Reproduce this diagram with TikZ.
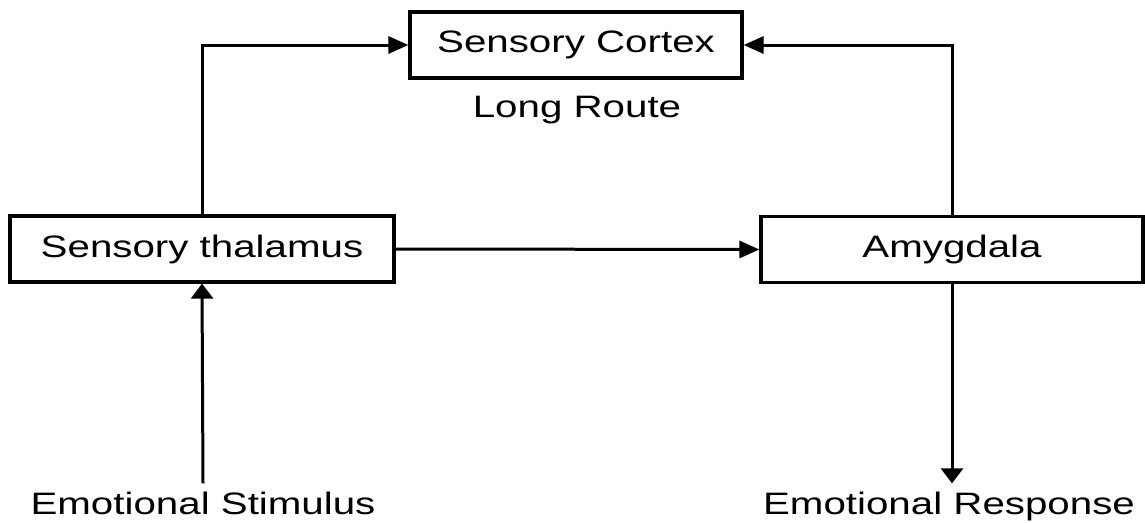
\documentclass[tikz,border=0pt]{standalone}
\usepackage{fontspec}
\setmainfont{Liberation Sans}
\usepackage{graphicx}
\usetikzlibrary{arrows.meta}

\def\boxh{66}
\def\txtw{1.3}
\newcommand{\widetext}[1]{\scalebox{\txtw}[1]{#1}}

\tikzset{
  blk/.style={draw, line width=3.2pt, minimum height=\boxh pt, inner sep=0pt},
  lbl/.style={inner sep=0pt, anchor=base},
  hlink/.style={line width=3pt, -{Triangle[length=20pt,width=17pt]}},
  vlink/.style={line width=3pt, -{Triangle[length=15pt,width=22pt]}},
}

\begin{document}
\begin{tikzpicture}[x=1pt, y=-1pt, font=\fontsize{31}{37}\selectfont]
  \useasboundingbox (0,0) rectangle (1145,522);

  % boxes
  \node[blk, minimum width=332pt] (cortex) at (576,45) {\widetext{Sensory Cortex}};
  \node[blk, minimum width=384pt] (thal) at (202,249) {\widetext{Sensory thalamus}};
  \node[blk, minimum width=382pt] (amyg) at (952,249.5) {\widetext{Amygdala}};

  % free labels
  \node[lbl] (route) at (577,117) {\widetext{Long Route}};
  \node[lbl] (stim) at (203,514) {\widetext{Emotional Stimulus}};
  \node[lbl] (resp) at (949,514) {\widetext{Emotional Response}};
  \coordinate (stimtop) at ([yshift=8pt]stim.north);
  \coordinate (resptop) at ([yshift=8pt]resp.north);

  % routes
  \draw[hlink] (thal.north) |- (cortex.west);
  \draw[hlink] (amyg.north) |- (cortex.east);
  \draw[hlink] (thal.east) -- (amyg.west);
  \draw[vlink] (stimtop) -- (thal.south);
  \draw[vlink] (amyg.south) -- (amyg.south |- resptop);
\end{tikzpicture}
\end{document}
